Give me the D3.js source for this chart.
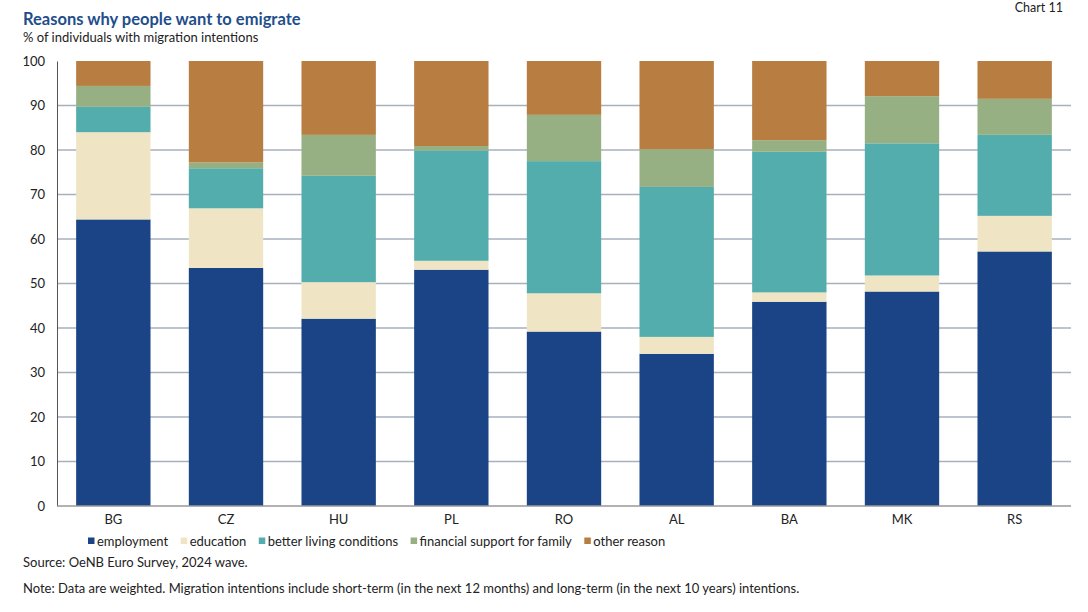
<!DOCTYPE html>
<html><head><meta charset="utf-8">
<script src="https://cdn.jsdelivr.net/npm/d3@7"></script>
<style>body{margin:0;background:#fff;}svg{display:block;font-family:Lato,"Open Sans",sans-serif;}</style>
</head><body>
<svg id="c" width="1088" height="612"></svg>
<script>
const categories = ["BG","CZ","HU","PL","RO","AL","BA","MK","RS"];
const seriesNames = ["employment","education","better living conditions","financial support for family","other reason"];
const employment = [64.4,53.5,42.1,53.1,39.2,34.2,45.9,48.2,57.2];
const education  = [19.6,13.4,8.2,2.0,8.6,3.8,2.1,3.6,8.0];
const livingConditions = [5.7,9.0,23.9,24.8,29.7,33.7,31.6,29.7,18.2];
const financialSupport = [4.7,1.3,9.2,1.0,10.4,8.5,2.6,10.6,8.1];
const otherReason = [5.6,22.8,16.6,19.1,12.1,19.8,17.8,7.9,8.5];
const yTicks = [0,10,20,30,40,50,60,70,80,90,100];
const colors = ["#1a4486","#efe5c5","#54adad","#96b083","#b87d41"];

const seriesValues = [employment,education,livingConditions,financialSupport,otherReason];
const rows = categories.map((c,i)=>{const r={cat:c};seriesNames.forEach((s,j)=>r[s]=seriesValues[j][i]);return r;});
const stack = d3.stack().keys(seriesNames)(rows);

const svg = d3.select("#c");
const L=57, R=1071, T=61, B=506;
const x = d3.scaleBand().domain(categories).range([L,R]).paddingInner(0.34).paddingOuter(0.17);
const y = d3.scaleLinear().domain([0,100]).range([B,T]);

// title
svg.append("text").attr("x",23).attr("y",25).attr("font-size",16.5).attr("font-weight","bold").attr("fill","#1f4e8c").text("Reasons why people want to emigrate");
svg.append("text").attr("x",23).attr("y",42).attr("font-size",13).attr("fill","#222").text("% of individuals with migration intentions");
svg.append("text").attr("x",1063).attr("y",12).attr("text-anchor","end").attr("font-size",12.5).attr("fill","#222").text("Chart 11");

// gridlines
svg.append("g").selectAll("line").data(yTicks.filter(t=>t>0&&t<100)).join("line")
  .attr("x1",L).attr("x2",R).attr("y1",d=>y(d)).attr("y2",d=>y(d))
  .attr("stroke","#a7b1bc").attr("stroke-width",1.5);

// bars
svg.append("g").selectAll("g").data(stack).join("g").attr("fill",(d,i)=>colors[i])
  .selectAll("rect").data(d=>d).join("rect")
  .attr("x",d=>x(d.data.cat)).attr("width",x.bandwidth())
  .attr("y",d=>y(d[1])).attr("height",d=>y(d[0])-y(d[1]));

// y axis
const ya = svg.append("g").attr("transform",`translate(${L},0)`).call(d3.axisLeft(y).tickValues(yTicks).tickSize(0).tickPadding(12));
ya.select(".domain").attr("stroke","#555").attr("stroke-width",1);
ya.selectAll("text").attr("font-size",13).attr("fill","#222").attr("font-family","Lato,sans-serif");

// baseline
svg.append("line").attr("x1",L).attr("x2",R).attr("y1",B).attr("y2",B).attr("stroke","#999").attr("stroke-width",1.5);

// x axis
const xa = svg.append("g").attr("transform",`translate(0,${B})`).call(d3.axisBottom(x).tickSize(0).tickPadding(9));
xa.select(".domain").remove();
xa.selectAll("text").attr("font-size",13).attr("fill","#222").attr("font-family","Lato,sans-serif");

// legend
const lg = svg.append("g").attr("transform","translate(88,541)");
let lx=0;
seriesNames.forEach((s,i)=>{
  const g=lg.append("g").attr("transform",`translate(${lx},0)`);
  g.append("rect").attr("x",0).attr("y",-3.5).attr("width",6.5).attr("height",6.5).attr("fill",colors[i]);
  const t=g.append("text").attr("x",9).attr("y",4.5).attr("font-size",13).attr("fill","#222").text(s);
  lx += 9 + t.node().getComputedTextLength() + 12.5;
});

svg.append("text").attr("x",23).attr("y",567).attr("font-size",13).attr("fill","#222").text("Source: OeNB Euro Survey, 2024 wave.");
svg.append("text").attr("x",23).attr("y",593).attr("font-size",13).attr("fill","#222").text("Note: Data are weighted. Migration intentions include short-term (in the next 12 months) and long-term (in the next 10 years) intentions.");
</script>
</body></html>
